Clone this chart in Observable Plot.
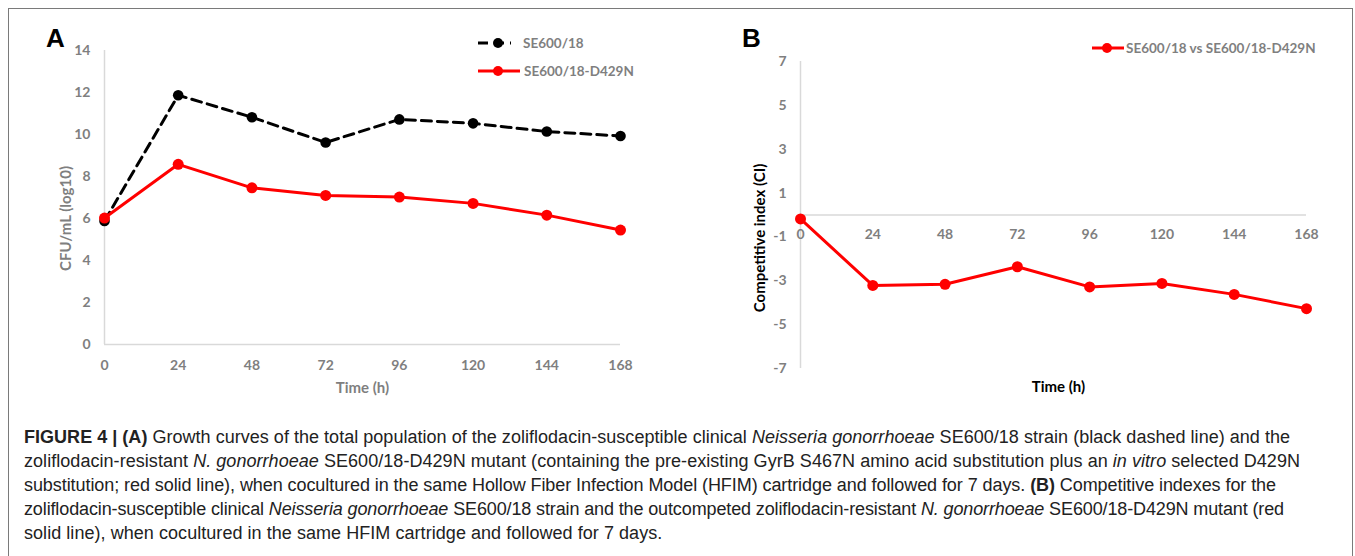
<!DOCTYPE html>
<html>
<head>
<meta charset="utf-8">
<script src="https://cdn.jsdelivr.net/npm/d3@7"></script>
<script src="https://cdn.jsdelivr.net/npm/@observablehq/plot@0.6"></script>
<style>
  html, body { margin: 0; padding: 0; background: #fff; }
  #root { position: relative; width: 1355px; height: 556px; overflow: hidden; }
  #frame { position: absolute; left: 8px; top: 8px; width: 1345px; height: 600px;
           border: 1.5px solid #7a7a7a; box-sizing: border-box; }
  .panel { position: absolute; top: 0; }
  .plabel { position: absolute; font-family: "Liberation Sans", Arial, sans-serif; font-weight: bold; font-size: 26px; color: #000; line-height: 1; }
  .legend { position: absolute; font-family: Lato, sans-serif; font-weight: bold; font-size: 13.5px; color: #7f7f7f; }
  .legend .item { position: absolute; white-space: nowrap; display: flex; align-items: center; }
  .caption { position: absolute; left: 24px; top: 425px; font-family: "Liberation Sans", Arial, sans-serif; font-size: 18px; letter-spacing: 0.05px; color: #222; }
  .caption div { white-space: nowrap; height: 24px; line-height: 24px; }
  .caption span { white-space: nowrap; }
</style>
</head>
<body>
<div id="root">
  <div id="frame"></div>
  <div id="panelA" class="panel" style="left:0px"></div>
  <div id="panelB" class="panel" style="left:680px"></div>
  <div class="plabel" style="left:46px; top:25px;">A</div>
  <div class="plabel" style="left:742px; top:25px;">B</div>
  <div id="legendA" class="legend"></div>
  <div id="legendB" class="legend"></div>
  <div class="caption" id="caption"></div>
</div>
<script>
// ---------- Data ----------
const timesH = [0, 24, 48, 72, 96, 120, 144, 168];
const wildType = [5.88, 11.87, 10.82, 9.62, 10.72, 10.53, 10.14, 9.93];   // SE600/18
const mutant   = [6.02, 8.58, 7.46, 7.10, 7.02, 6.72, 6.16, 5.45];       // SE600/18-D429N
const competitiveIndex = [-0.18, -3.21, -3.16, -2.36, -3.28, -3.12, -3.62, -4.27];
const yTicksA = [0, 2, 4, 6, 8, 10, 12, 14];
const yTicksB = [-7, -5, -3, -1, 1, 3, 5, 7];
const xTicks = [0, 24, 48, 72, 96, 120, 144, 168];
const seriesNames = ["SE600/18", "SE600/18-D429N"];
const legendB = "SE600/18 vs SE600/18-D429N";

const gray = "#7f7f7f";
const axisGray = "#d9d9d9";
const red = "#ff0000";

const dataWT = timesH.map((t, i) => ({t, v: wildType[i]}));
const dataMut = timesH.map((t, i) => ({t, v: mutant[i]}));
const dataCI = timesH.map((t, i) => ({t, v: competitiveIndex[i]}));

const baseStyle = {fontFamily: "Lato, sans-serif", fontSize: "14px", fontWeight: "bold", color: gray, background: "transparent"};

// ---------- Panel A ----------
const plotA = Plot.plot({
  width: 680, height: 400,
  marginLeft: 104, marginRight: 60, marginTop: 50, marginBottom: 56,
  style: baseStyle,
  x: {domain: [0, 168], axis: null},
  y: {domain: [0, 14], axis: null},
  marks: [
    Plot.ruleX([0], {stroke: axisGray, strokeWidth: 1.5}),
    Plot.ruleY([0], {stroke: axisGray, strokeWidth: 1.5}),
    Plot.axisY({ticks: yTicksA, tickSize: 0, tickPadding: 14, label: null, fill: gray, tickFormat: d => String(d)}),
    Plot.axisX({ticks: xTicks, tickSize: 0, tickPadding: 16, label: null, fill: gray, tickFormat: d => String(d)}),
    Plot.text(["Time (h)"], {frameAnchor: "bottom", dy: 48, text: d => d, fill: gray, fontSize: 15, fontWeight: "bold", textAnchor: "middle"}),
    Plot.text(["CFU/mL (log10)"], {frameAnchor: "left", dx: -38, dy: 21, rotate: -90, text: d => d, fill: gray, fontSize: 15, fontWeight: "bold", textAnchor: "middle"}),
    Plot.line(dataWT, {x: "t", y: "v", stroke: "#000", strokeWidth: 3, strokeDasharray: "10,6"}),
    Plot.dot(dataWT, {x: "t", y: "v", r: 5.3, fill: "#000"}),
    Plot.line(dataMut, {x: "t", y: "v", stroke: red, strokeWidth: 3}),
    Plot.dot(dataMut, {x: "t", y: "v", r: 5.5, fill: red})
  ]
});
document.getElementById("panelA").appendChild(plotA);

// ---------- Panel B ----------
const plotB = Plot.plot({
  width: 675, height: 400,
  marginLeft: 120, marginRight: 49, marginTop: 61, marginBottom: 32,
  style: baseStyle,
  x: {domain: [0, 168], axis: null},
  y: {domain: [-7, 7], axis: null},
  marks: [
    Plot.ruleX([0], {stroke: axisGray, strokeWidth: 1.5}),
    Plot.ruleY([0], {stroke: axisGray, strokeWidth: 1.5}),
    Plot.axisY({ticks: yTicksB, tickSize: 0, tickPadding: 14, label: null, fill: gray, tickFormat: d => String(d)}),
    Plot.text(xTicks, {x: d => d, y: 0, dy: 20, text: d => String(d), fill: gray, fontSize: 14}),
    Plot.text(["Time (h)"], {frameAnchor: "bottom", dx: 5, dy: 23, text: d => d, fill: "#000", fontSize: 15, fontWeight: "bold", textAnchor: "middle"}),
    Plot.text(["Competitive index (CI)"], {frameAnchor: "left", dx: -40, dy: 23, rotate: -90, text: d => d, fill: "#000", fontSize: 15, fontWeight: "bold", textAnchor: "middle"}),
    Plot.line(dataCI, {x: "t", y: "v", stroke: red, strokeWidth: 3}),
    Plot.dot(dataCI, {x: "t", y: "v", r: 5.5, fill: red})
  ]
});
document.getElementById("panelB").appendChild(plotB);

// ---------- Legends ----------
function legendItem(parent, left, top, color, dashed, lineW, text) {
  const item = document.createElement("div");
  item.className = "item";
  item.style.left = left + "px";
  item.style.top = (top - 9) + "px";
  item.style.height = "18px";
  const dash = dashed ? `stroke-dasharray="10,6"` : "";
  item.innerHTML = `<svg width="${lineW + 4}" height="18" style="display:block">
      <line x1="0" y1="9" x2="${lineW}" y2="9" stroke="${color}" stroke-width="3" ${dash}></line>
      <circle cx="20" cy="9" r="5" fill="${color}"></circle></svg>
      <span style="margin-left:${dashed ? 8 : 0}px">${text}</span>`;
  parent.appendChild(item);
}
const lA = document.getElementById("legendA");
legendItem(lA, 478, 43, "#000", true, 33, seriesNames[0]);
legendItem(lA, 478, 71, red, false, 42, seriesNames[1]);
const lB = document.getElementById("legendB");
(function () {
  const item = document.createElement("div");
  item.className = "item";
  item.style.left = "1092px"; item.style.top = (48 - 9) + "px"; item.style.height = "18px";
  item.innerHTML = `<svg width="34" height="18" style="display:block">
      <line x1="0" y1="9" x2="32" y2="9" stroke="${red}" stroke-width="3"></line>
      <circle cx="15" cy="9" r="5" fill="${red}"></circle></svg><span>${legendB}</span>`;
  lB.appendChild(item);
})();

// ---------- Caption ----------
const captionLines = [
  `<b>FIGURE 4 | (A)</b> Growth curves of the total population of the zoliflodacin-susceptible clinical <i>Neisseria gonorrhoeae</i> SE600/18 strain (black dashed line) and the`,
  `zoliflodacin-resistant <i>N. gonorrhoeae</i> SE600/18-D429N mutant (containing the pre-existing GyrB S467N amino acid substitution plus an <i>in vitro</i> selected D429N`,
  `substitution; red solid line), when cocultured in the same Hollow Fiber Infection Model (HFIM) cartridge and followed for 7 days. <b>(B)</b> Competitive indexes for the`,
  `zoliflodacin-susceptible clinical <i>Neisseria gonorrhoeae</i> SE600/18 strain and the outcompeted zoliflodacin-resistant <i>N. gonorrhoeae</i> SE600/18-D429N mutant (red`,
  `solid line), when cocultured in the same HFIM cartridge and followed for 7 days.`
];
const captionLineWidths = [1266, 1276, 1252, 1260, null];  // line lengths in the printed caption
const cap = document.getElementById("caption");
captionLines.forEach((l, i) => {
  const d = document.createElement("div");
  const s = document.createElement("span");
  s.innerHTML = l;
  d.appendChild(s);
  cap.appendChild(d);
  const target = captionLineWidths[i];
  if (target) {
    const w = s.getBoundingClientRect().width;
    const n = s.textContent.length;
    const ls = 0.05 + (target - w) / n;
    s.style.letterSpacing = ls.toFixed(3) + "px";
  }
});
</script>
</body>
</html>
